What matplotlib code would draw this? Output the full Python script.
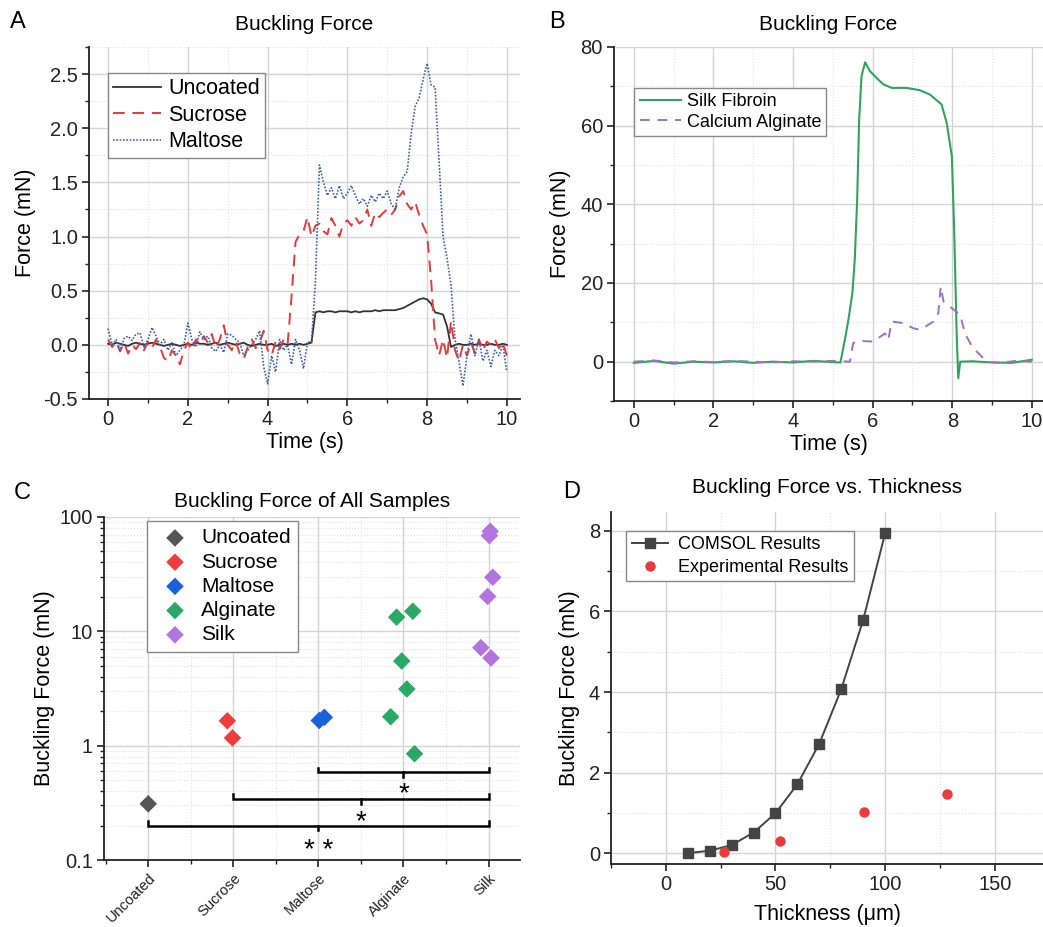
import numpy as np
import matplotlib
matplotlib.use("Agg")
import matplotlib.pyplot as plt
from matplotlib.ticker import MultipleLocator, LogLocator, NullFormatter

plt.rcParams["font.family"] = ["Liberation Sans", "DejaVu Sans"]

# --- Panel A: buckling force traces (0.1 s grid)
t_a = np.round(np.arange(0, 10.01, 0.1), 1)
uncoated_a = [
    0.01, 0.0, 0.02, 0.01, 0.0, -0.01, 0.01, 0.02, 0.01, 0.0,
    0.01, 0.02, 0.01, 0.0, -0.01, 0.0, 0.01, 0.0, -0.01, 0.0,
    0.01, 0.0, 0.02, 0.01, 0.01, 0.0, 0.01, 0.02, 0.0, 0.01,
    0.02, 0.01, 0.0, 0.01, 0.02, 0.0, -0.01, 0.0, 0.01, 0.0,
    0.0, 0.01, -0.01, 0.0, 0.01, 0.0, 0.01, 0.0, 0.01, 0.0,
    0.01, 0.02, 0.30, 0.31, 0.30, 0.31, 0.31, 0.30, 0.31, 0.31,
    0.31, 0.30, 0.31, 0.30, 0.31, 0.31, 0.31, 0.32, 0.31, 0.32,
    0.32, 0.32, 0.32, 0.33, 0.34, 0.36, 0.38, 0.40, 0.42, 0.43,
    0.42, 0.38, 0.30, 0.29, 0.28, 0.17, -0.02, 0.0, 0.01, 0.0,
    0.0, 0.01, 0.0, 0.01, 0.0, 0.0, 0.01, 0.0, 0.0, 0.01,
    0.0,
]
sucrose_a = [
    0.05, -0.02, 0.03, -0.06, 0.02, -0.08, 0.0, -0.04, 0.02, -0.05,
    0.03, -0.03, 0.05, -0.02, -0.12, -0.15, -0.05, -0.1, -0.18, -0.05,
    0.02, -0.05, 0.05, 0.0, 0.08, 0.02, 0.1, -0.03, 0.05, 0.18,
    0.0, -0.05, 0.03, -0.08, -0.13, -0.02, 0.05, -0.03, 0.02, 0.13,
    -0.05, -0.1, 0.03, -0.04, 0.05, 0.0, 0.45, 0.95, 1.02, 1.05,
    1.18, 1.0, 1.1, 1.12, 1.05, 1.02, 1.17, 1.1, 1.0, 1.12,
    1.15, 1.1, 1.18, 1.12, 1.15, 1.25, 1.1, 1.22, 1.18, 1.22,
    1.25, 1.2, 1.25, 1.37, 1.42, 1.3, 1.25, 1.32, 1.2, 1.1,
    1.02, 0.6, 0.05, -0.1, 0.05, -0.12, 0.22, -0.05, -0.15, 0.0,
    -0.1, 0.02, -0.08, 0.05, -0.05, 0.03, 0.0, 0.05, -0.03, 0.02,
    -0.1,
]
maltose_a = [
    0.15, 0.0, 0.05, -0.05, 0.06, 0.08, 0.04, 0.1, 0.11, -0.02,
    0.05, 0.16, 0.08, 0.0, 0.05, -0.05, 0.02, -0.1, -0.05, 0.0,
    0.2, 0.05, -0.02, 0.12, 0.05, 0.08, -0.03, -0.06, 0.0, -0.07,
    0.1, 0.09, 0.05, 0.02, -0.1, -0.05, 0.0, 0.05, 0.13, -0.2,
    -0.36, -0.1, -0.25, 0.05, -0.05, 0.0, -0.18, 0.05, -0.05, -0.22,
    0.03, 0.02, 0.6, 1.66, 1.5, 1.38, 1.45, 1.35, 1.47, 1.35,
    1.4, 1.47, 1.38, 1.3, 1.35, 1.28, 1.38, 1.32, 1.4, 1.35,
    1.42, 1.3, 1.25, 1.45, 1.55, 1.6, 1.95, 2.2, 2.28, 2.45,
    2.6, 2.4, 2.38, 1.7, 1.0, 0.8, 0.55, 0.05, -0.15, -0.38,
    -0.1, 0.1, -0.1, 0.05, -0.15, -0.05, -0.2, -0.05, -0.1, 0.0,
    -0.25,
]

# --- Panel B
t_silk = [0, 0.5, 1.0, 1.5, 2.0, 2.5, 3.0, 3.5, 4.0, 4.5, 5.0, 5.19, 5.3, 5.39,
          5.49, 5.55, 5.61, 5.66, 5.72, 5.81, 5.93, 6.14, 6.27, 6.48, 6.85, 7.19,
          7.44, 7.73, 7.86, 7.99, 8.05, 8.11, 8.15, 8.2, 8.5, 9.0, 9.5, 10.0]
silk_b = [-0.3, 0.2, -0.5, 0.0, -0.2, 0.1, -0.3, 0.0, -0.2, 0.2, -0.1, -0.2, 5.5, 10.6,
          17.4, 26.0, 41.0, 61.5, 72.6, 76.1, 73.9, 71.7, 70.5, 69.6, 69.6, 69.0,
          67.9, 65.4, 60.7, 52.2, 32.7, 7.2, -4.2, 0.0, 0.1, -0.2, -0.3, 0.5]
t_alg = [0, 0.5, 1.0, 1.5, 2.0, 2.5, 3.0, 3.5, 4.0, 4.5, 5.0, 5.43, 5.51, 5.64,
         6.02, 6.31, 6.39, 6.48, 6.77, 7.02, 7.19, 7.53, 7.65, 7.71, 7.78, 7.99,
         8.2, 8.32, 8.45, 8.62, 8.87, 9.2, 9.6, 10.0]
alginate_b = [0.0, 0.3, -0.2, 0.1, -0.1, 0.2, 0.0, -0.2, 0.1, 0.0, 0.2, 0.0, 4.7, 5.3,
              5.1, 7.2, 5.5, 10.2, 9.8, 8.5, 8.1, 10.2, 12.3, 19.1, 15.3, 13.6,
              11.9, 7.2, 4.7, 2.5, 0.0, -0.3, 0.2, 0.0]

# --- Panel C: all samples (x = category index with jitter)
categories = ["Uncoated", "Sucrose", "Maltose", "Alginate", "Silk"]
c_colors = ["#555555", "#f03c3c", "#1a62dc", "#2aa866", "#b474e0"]
c_x = [
    [0.0],
    [0.93, 0.99],
    [2.01, 2.07],
    [2.85, 2.92, 2.98, 3.04, 3.11, 3.13],
    [4.02, 4.01, 4.05, 3.99, 3.91, 4.03],
]
c_y = [
    [0.31],
    [1.65, 1.17],
    [1.66, 1.77],
    [1.79, 13.3, 5.5, 3.13, 15.0, 0.85],
    [75.0, 68.7, 29.7, 20.2, 7.2, 5.85],
]

# --- Panel D
thick_sim = [10, 20, 30, 40, 50, 60, 70, 80, 90, 100]
force_sim = [0.0, 0.06, 0.2, 0.51, 0.99, 1.71, 2.72, 4.07, 5.79, 7.94]
thick_exp = [26.5, 52, 90.5, 128]
force_exp = [0.03, 0.31, 1.03, 1.47]

W, H = 1043, 927
fig = plt.figure(figsize=(W / 100, H / 100), dpi=100)

TICK_FS = 14.5
LABEL_FS = 15.5
TITLE_FS = 15


def add_axes(x0, x1, y0, y1):
    # pixel box -> figure fraction
    return fig.add_axes([x0 / W, 1 - y1 / H, (x1 - x0) / W, (y1 - y0) / H])


def style(ax):
    ax.spines["top"].set_visible(False)
    ax.spines["right"].set_visible(False)
    for s in ("left", "bottom"):
        ax.spines[s].set_linewidth(1.3)
        ax.spines[s].set_color("#222222")
    ax.tick_params(which="major", direction="out", length=5, width=1.2, labelsize=TICK_FS,
                   colors="#222222", pad=3)
    ax.tick_params(which="minor", direction="out", length=3, width=1.0, colors="#222222")
    ax.grid(which="major", color="#d4d4d4", lw=1.0)
    ax.grid(which="minor", color="#e2e2e2", lw=0.8, ls=":")
    ax.set_axisbelow(True)


leg_kw = dict(loc="upper left", borderaxespad=0, fancybox=False, framealpha=1,
              edgecolor="#888888")

# A
axA = add_axes(89, 520, 47, 399)
style(axA)
axA.plot(t_a, uncoated_a, color="#333333", lw=1.3, label="Uncoated")
axA.plot(t_a, sucrose_a, color="#e23b3b", lw=1.4, ls=(0, (6, 4)), label="Sucrose")
axA.plot(t_a, maltose_a, color="#3b5fae", lw=1.2, ls=(0, (1, 1)), label="Maltose")
axA.set_xlim(-0.48, 10.33)
axA.set_ylim(-0.5, 2.75)
axA.xaxis.set_major_locator(MultipleLocator(2))
axA.xaxis.set_minor_locator(MultipleLocator(1))
axA.yaxis.set_major_locator(MultipleLocator(0.5))
axA.yaxis.set_minor_locator(MultipleLocator(0.25))
axA.yaxis.set_major_formatter(matplotlib.ticker.FormatStrFormatter("%.1f"))
axA.set_xlabel("Time (s)", fontsize=LABEL_FS, labelpad=2)
axA.set_ylabel("Force (mN)", fontsize=LABEL_FS, labelpad=5)
axA.set_title("Buckling Force", fontsize=TITLE_FS, pad=12)
axA.legend(bbox_to_anchor=(0.044, 0.926), fontsize=15.5, handlelength=2.2,
           handletextpad=0.35, labelspacing=0.25, borderpad=0.25, **leg_kw)

# B
axB = add_axes(614, 1043, 47, 401)
style(axB)
axB.plot(t_silk, silk_b, color="#30a45e", lw=1.5, label="Silk Fibroin")
axB.plot(t_alg, alginate_b, color="#9b72c4", lw=1.4, ls=(0, (5, 4)), label="Calcium Alginate")
axB.set_xlim(-0.5, 10.28)
axB.set_ylim(-10, 80)
axB.xaxis.set_major_locator(MultipleLocator(2))
axB.xaxis.set_minor_locator(MultipleLocator(1))
axB.yaxis.set_major_locator(MultipleLocator(20))
axB.yaxis.set_minor_locator(MultipleLocator(10))
axB.set_xlabel("Time (s)", fontsize=LABEL_FS, labelpad=2)
axB.set_ylabel("Force (mN)", fontsize=LABEL_FS, labelpad=7)
axB.set_title("Buckling Force", fontsize=TITLE_FS, pad=12)
axB.legend(bbox_to_anchor=(0.047, 0.884), fontsize=13, handlelength=2.3,
           handletextpad=0.3, labelspacing=0.18, borderpad=0.3, **leg_kw)

# C
axC = add_axes(104, 520, 517, 860)
style(axC)
axC.set_yscale("log")
for name, col, xs, ys in zip(categories, c_colors, c_x, c_y):
    axC.scatter(xs, ys, marker="D", s=80, color=col, edgecolors="none", label=name, zorder=3)
axC.set_xlim(-0.52, 4.37)
axC.set_ylim(0.1, 100)
axC.set_xticks(range(len(categories)))
axC.set_xticklabels(categories, rotation=45, ha="right", rotation_mode="anchor", fontsize=10.5)
axC.xaxis.set_minor_locator(MultipleLocator(0.5))
axC.yaxis.set_minor_locator(LogLocator(base=10, subs=np.arange(2, 10)))
axC.yaxis.set_minor_formatter(NullFormatter())
axC.set_yticks([0.1, 1, 10, 100])
axC.set_yticklabels(["0.1", "1", "10", "100"])
axC.set_ylabel("Buckling Force (mN)", fontsize=LABEL_FS, labelpad=3)
axC.set_title("Buckling Force of All Samples", fontsize=TITLE_FS, pad=7)
axC.legend(bbox_to_anchor=(0.103, 0.988), fontsize=15, handletextpad=0.25,
           labelspacing=0.25, borderpad=0.35, **leg_kw)

# significance brackets (x1, x2, y, label, label y)
brackets = [(2, 4, 0.585, "*", 0.38), (1, 4, 0.342, "*", 0.212), (0, 4, 0.2, "* *", 0.12)]
for x1, x2, yb, lab, yl in brackets:
    xm = (x1 + x2) / 2
    axC.plot([x1, x1, x2, x2], [yb * 1.1, yb, yb, yb * 1.1], color="black", lw=1.8,
             solid_joinstyle="miter", zorder=4)
    axC.plot([xm, xm], [yb, yb * 0.91], color="black", lw=1.8, zorder=4)
    axC.text(xm, yl, lab, ha="center", va="center", fontsize=20, zorder=4)

# D
axD = add_axes(611, 1043, 512, 864)
style(axD)
axD.plot(thick_sim, force_sim, color="#444444", lw=1.4, marker="s", ms=6.5,
         label="COMSOL Results", zorder=3)
axD.plot(thick_exp, force_exp, ls="none", marker="o", ms=6.5, color="#e83c3c",
         label="Experimental Results", zorder=3)
axD.set_xlim(-25, 172)
axD.set_ylim(-0.27, 8.47)
axD.xaxis.set_major_locator(MultipleLocator(50))
axD.xaxis.set_minor_locator(MultipleLocator(25))
axD.yaxis.set_major_locator(MultipleLocator(2))
axD.yaxis.set_minor_locator(MultipleLocator(1))
axD.set_xlabel("Thickness (\u03bcm)", fontsize=LABEL_FS, labelpad=7)
axD.set_ylabel("Buckling Force (mN)", fontsize=LABEL_FS, labelpad=6)
axD.set_title("Buckling Force vs. Thickness", fontsize=TITLE_FS, pad=14)
axD.legend(bbox_to_anchor=(0.035, 0.946), fontsize=13, handlelength=2.0,
           handletextpad=0.6, labelspacing=0.3, borderpad=0.3, **leg_kw)

# panel letters
for lab, (px, py) in zip("ABCD", [(18, 22), (557, 22), (22, 493), (572, 492)]):
    fig.text(px / W, 1 - py / H, lab, fontsize=17, ha="center", va="center")

fig.savefig("out.png", dpi=100)
